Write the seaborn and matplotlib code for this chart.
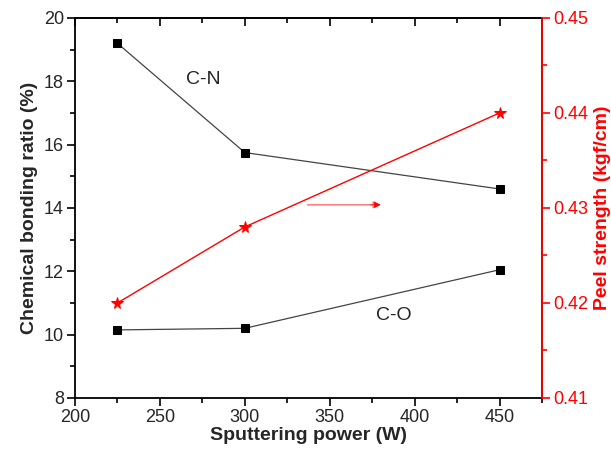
import matplotlib
matplotlib.use("Agg")
import matplotlib.pyplot as plt
import seaborn as sns
import pandas as pd
from matplotlib.ticker import MultipleLocator, FormatStrFormatter

sns.set_theme(style="ticks")
plt.rcParams['font.family'] = ['Liberation Sans', 'DejaVu Sans']

power = [225, 300, 450]
cn_ratio = [19.2, 15.75, 14.6]
co_ratio = [10.15, 10.2, 12.05]
peel_strength = [0.420, 0.428, 0.440]

fig = plt.figure(figsize=(6.11, 4.49), dpi=100)
ax = fig.add_axes([0.1227, 0.1136, 0.7643, 0.8464])

df = pd.DataFrame({"power": power, "cn": cn_ratio, "co": co_ratio, "peel": peel_strength})

sns.lineplot(data=df, x="power", y="cn", ax=ax, color="#444444", lw=0.9,
             marker="s", markersize=5.5, markerfacecolor="black", markeredgecolor="black")
sns.lineplot(data=df, x="power", y="co", ax=ax, color="#444444", lw=0.9,
             marker="s", markersize=5.5, markerfacecolor="black", markeredgecolor="black")

ax.set_xlim(200, 475)
ax.set_ylim(8, 20)
ax.xaxis.set_major_locator(MultipleLocator(50))
ax.xaxis.set_minor_locator(MultipleLocator(25))
ax.yaxis.set_major_locator(MultipleLocator(2))
ax.yaxis.set_minor_locator(MultipleLocator(1))
ax.tick_params(axis='both', which='both', direction='out', labelsize=13, color='black',
               width=1.2, left=True, bottom=True, top=False, right=False, pad=2)
ax.tick_params(axis='both', which='major', length=6)
ax.tick_params(axis='both', which='minor', length=3.5)
ax.set_xlabel("Sputtering power (W)", fontsize=14, fontweight='bold', labelpad=1)
ax.set_ylabel("Chemical bonding ratio (%)", fontsize=14, fontweight='bold', labelpad=4)
for s in ax.spines.values():
    s.set_linewidth(1.3)
    s.set_color('black')

# top ticks pointing inward
secx = ax.secondary_xaxis('top')
secx.xaxis.set_major_locator(MultipleLocator(50))
secx.xaxis.set_minor_locator(MultipleLocator(25))
secx.tick_params(axis='x', which='both', direction='in', labeltop=False, top=True,
                 width=1.2, color='black')
secx.tick_params(which='major', length=6)
secx.tick_params(which='minor', length=3.5)
secx.spines['top'].set_linewidth(1.3)

ax.text(275.5, 18.05, "C-N", fontsize=14, ha='center', va='center')
ax.text(388, 10.6, "C-O", fontsize=14, ha='center', va='center')

ax2 = ax.twinx()
sns.lineplot(data=df, x="power", y="peel", ax=ax2, color="red", lw=1.0,
             marker="*", markersize=8.5, markerfacecolor="red", markeredgecolor="red")
ax2.set_ylim(0.41, 0.45)
ax2.yaxis.set_major_locator(MultipleLocator(0.01))
ax2.yaxis.set_minor_locator(MultipleLocator(0.005))
ax2.yaxis.set_major_formatter(FormatStrFormatter('%.2f'))
ax2.tick_params(axis='y', which='both', direction='out', colors='red', labelsize=13,
                width=1.2, right=True, left=False, pad=2)
ax2.tick_params(axis='y', which='major', length=6)
ax2.tick_params(axis='y', which='minor', length=3.5)
ax2.set_ylabel("Peel strength (kgf/cm)", fontsize=14, fontweight='bold', color='red', labelpad=4)
ax2.spines['right'].set_color('red')
ax2.spines['right'].set_linewidth(1.3)
ax2.spines['left'].set_visible(False)
ax2.spines['top'].set_visible(False)
ax2.spines['bottom'].set_visible(False)
ax2.set_xlabel("")

ax.annotate("", xy=(380, 14.1), xytext=(337, 14.1),
            arrowprops=dict(arrowstyle='-|>', color='#ff8080', lw=1.2,
                            mutation_scale=10, shrinkA=0, shrinkB=0))
ax.annotate("", xy=(380, 14.1), xytext=(374, 14.1),
            arrowprops=dict(arrowstyle='-|>', color='red', lw=0.5,
                            mutation_scale=10, shrinkA=0, shrinkB=0))

fig.savefig("out.png", dpi=100)
